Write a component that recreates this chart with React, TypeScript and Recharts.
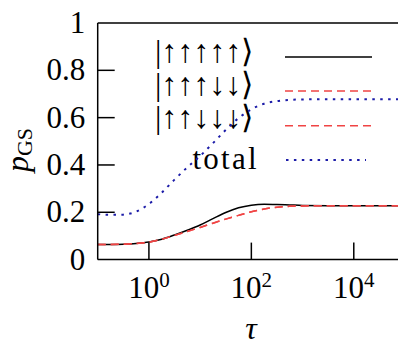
import { LineChart, Line, XAxis, YAxis, ReferenceLine } from "recharts";

// tau values (log scale, 0.1 .. 1e5)
const tau = [
  0.1, 0.178, 0.316, 0.562, 1, 1.78, 3.16, 5.62, 10, 17.8, 31.6, 56.2, 100, 178,
  316, 562, 1000, 3160, 10000, 100000,
];

// ground state probabilities
const allUp = [
  0.064, 0.064, 0.065, 0.068, 0.074, 0.086, 0.104, 0.124, 0.146, 0.173, 0.199,
  0.219, 0.23, 0.234, 0.233, 0.231, 0.229, 0.228, 0.228, 0.228,
];
const threeUp = [
  0.064, 0.064, 0.065, 0.068, 0.074, 0.086, 0.102, 0.119, 0.136, 0.154, 0.171,
  0.187, 0.202, 0.214, 0.221, 0.225, 0.227, 0.228, 0.228, 0.228,
];
const twoUp = [
  0.064, 0.064, 0.065, 0.068, 0.074, 0.086, 0.102, 0.119, 0.136, 0.154, 0.171,
  0.187, 0.202, 0.214, 0.221, 0.225, 0.227, 0.228, 0.228, 0.228,
];
const total = [
  0.192, 0.189, 0.19, 0.203, 0.235, 0.283, 0.338, 0.39, 0.438, 0.492, 0.548,
  0.598, 0.635, 0.659, 0.67, 0.675, 0.677, 0.678, 0.678, 0.678,
];

const xTicks = [1, 100, 10000];
const xTickExponents = ["0", "2", "4"];
const yTicks = [0, 0.2, 0.4, 0.6, 0.8, 1];
const yTickLabels = ["0", "0.2", "0.4", "0.6", "0.8", "1"];

const legendLabels = ["|↑↑↑↑↑⟩", "|↑↑↑↓↓⟩", "|↑↑↓↓↓⟩", "total"];

const data = tau.map((t, i) => ({
  tau: t,
  allUp: allUp[i],
  threeUp: threeUp[i],
  twoUp: twoUp[i],
  total: total[i],
}));

const FONT = "'Liberation Serif', 'Times New Roman', Times, serif";
const serif = { fontFamily: FONT };
const RED = "#f04444";
const BLUE = "#1c1ca8";

const series = [
  { key: "allUp", color: "#000", dash: undefined, width: 1.5 },
  { key: "threeUp", color: RED, dash: "8 5", width: 1.5 },
  { key: "twoUp", color: RED, dash: "8 5", width: 1.5 },
  { key: "total", color: BLUE, dash: "2.5 5.4", width: 2 },
];

const XTick = (props: any) => {
  const { x, y, payload } = props;
  const exp = xTickExponents[xTicks.indexOf(payload.value)];
  return (
    <g>
      <line x1={x} x2={x} y1={y} y2={y - 17} stroke="#000" strokeWidth={1.5} />
      <text x={x} y={y + 38} textAnchor="middle" fontFamily={FONT} style={serif} fontSize={31}>
        10
        <tspan dy={-11} fontSize={21}>
          {exp}
        </tspan>
      </text>
    </g>
  );
};

const YTick = (props: any) => {
  const { x, y, payload } = props;
  const label = yTickLabels[yTicks.indexOf(payload.value)];
  return (
    <g>
      {payload.value > 0 && payload.value < 1 && (
        <line x1={x} x2={x + 17} y1={y} y2={y} stroke="#000" strokeWidth={1.5} />
      )}
      <text x={x - 12.5} y={y + 10} textAnchor="end" fontFamily={FONT} style={serif} fontSize={31}>
        {label}
      </text>
    </g>
  );
};

// legend drawn inside the plot, top left
const LegendBox = () => {
  const rows = [57, 91, 125.7, 160];
  const textY = [61.5, 95, 128.3];
  return (
    <g className="legend">
      {series.map((s, i) => (
        <g key={s.key}>
          {i < 3 ? (
            <text x={155} y={textY[i]} fontFamily={FONT} style={serif} fontSize={32}>
              {legendLabels[i]}
            </text>
          ) : (
            <text
              x={259}
              y={168.5}
              textAnchor="end"
              fontFamily={FONT}
              style={{ ...serif, letterSpacing: 2.3 }}
              fontSize={31}
            >
              {legendLabels[i]}
            </text>
          )}
          <line
            x1={i === 3 ? 286 : 285}
            x2={i === 3 ? 366 : 372}
            y1={rows[i]}
            y2={rows[i]}
            stroke={s.color}
            strokeWidth={s.width}
            strokeDasharray={s.dash}
          />
        </g>
      ))}
    </g>
  );
};

export default function App() {
  return (
    <div style={{ margin: -8, fontFamily: FONT }}>
      <LineChart
        width={406}
        height={351}
        data={data}
        style={serif}
        margin={{ top: 23, right: 1, bottom: 31.4, left: 37.7 }}
      >
        <XAxis
          dataKey="tau"
          type="number"
          scale="log"
          domain={[0.1, 100000]}
          allowDataOverflow
          ticks={xTicks}
          interval={0}
          height={60}
          tickSize={0}
          tickMargin={0}
          tickLine={false}
          axisLine={{ stroke: "#000", strokeWidth: 1.5 }}
          tick={<XTick />}
        />
        <YAxis
          type="number"
          domain={[0, 1]}
          ticks={yTicks}
          interval={0}
          width={60}
          tickSize={0}
          tickMargin={0}
          tickLine={false}
          axisLine={{ stroke: "#000", strokeWidth: 1.5 }}
          tick={<YTick />}
        />
        <ReferenceLine y={1} stroke="#000" strokeWidth={1.5} ifOverflow="visible" />
        <ReferenceLine x={100000} stroke="#000" strokeWidth={1.5} ifOverflow="visible" />
        {series.map((s) => (
          <Line
            key={s.key}
            dataKey={s.key}
            type="monotone"
            stroke={s.color}
            strokeWidth={s.width}
            strokeDasharray={s.dash}
            dot={false}
            activeDot={false}
            isAnimationActive={false}
          />
        ))}
        <LegendBox />
        <text x={251} y={339} textAnchor="middle" fontFamily={FONT} style={serif} fontStyle="italic" fontSize={32}>
          τ
        </text>
        <text transform="translate(28, 150) rotate(-90)" textAnchor="middle" fontFamily={FONT} style={serif}>
          <tspan fontStyle="italic" fontSize={32}>
            p
          </tspan>
          <tspan fontSize={22} dy={4}>
            GS
          </tspan>
        </text>
      </LineChart>
    </div>
  );
}
